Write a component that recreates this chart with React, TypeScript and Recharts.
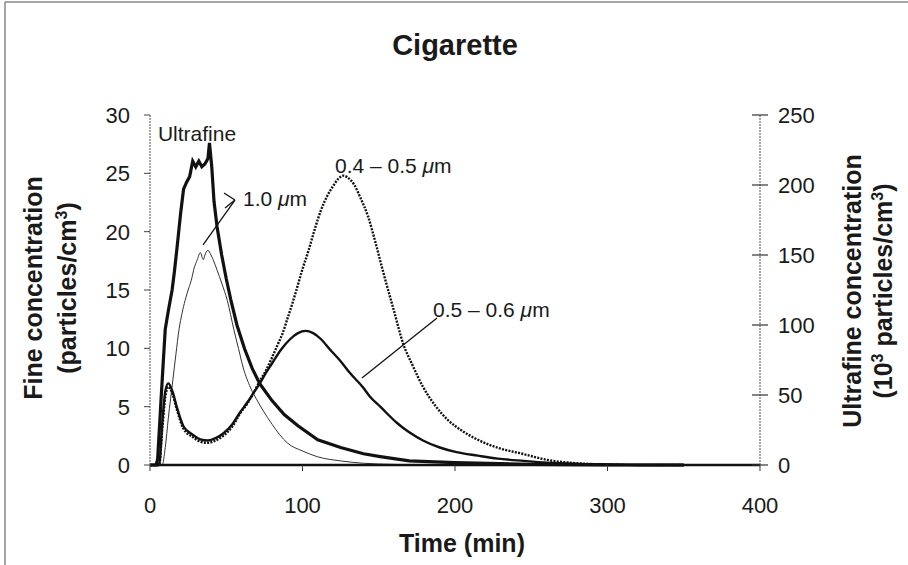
import React from "react";
import { LineChart, Line, XAxis, YAxis, ReferenceLine, ReferenceDot } from "recharts";

// ---------- data ----------
const xTicks = [0, 100, 200, 300, 400];
const leftTicks = [0, 5, 10, 15, 20, 25, 30];
const rightTicks = [0, 50, 100, 150, 200, 250];

// Ultrafine (10^3 particles/cm3, right axis)
const ufTime = [0, 4, 5, 7, 9, 10, 12, 14.5, 16, 17.8, 20, 22, 24, 26, 28, 30, 32, 34, 36, 38, 39, 40.5, 42, 44, 47, 50, 53, 57, 62, 67, 72, 80, 88, 97, 110, 125, 140, 151, 170, 200, 250, 300, 350];
const ufValue = [0, 0, 4, 42, 79, 97, 110, 125, 138, 156, 179, 197, 202, 206, 217, 213, 217, 213, 215, 219, 230, 213, 188, 170, 150, 133, 118, 100, 83, 69, 58, 46, 36, 28, 18, 12.5, 8, 6, 3, 1.7, 0.4, 0, 0];

// 1.0 um (fine, left axis)
const p10Time = [0, 8, 10, 12, 15, 17, 19, 21, 23, 25, 27, 29, 31, 33, 35, 36, 38, 40, 41.4, 44, 47, 50.7, 55, 58, 61, 66, 70, 74, 80, 85, 90, 100, 110, 125, 140, 160, 180, 250, 350];
const p10Value = [0, 0, 1.5, 4, 7.3, 9.5, 11.6, 13, 14.1, 15, 15.8, 16.9, 17.6, 18.2, 17.6, 18.0, 18.4, 18.0, 17.6, 16.7, 15.6, 14.1, 11.6, 10, 8.4, 6.6, 5.6, 4.7, 3.5, 2.6, 1.9, 1.2, 0.7, 0.35, 0.15, 0.05, 0, 0, 0];

// 0.4 - 0.5 um (fine, left axis)
const p45Time = [0, 6, 8, 10, 12, 15, 17.5, 22, 28, 33, 38, 43, 48, 54, 59, 64, 68, 72, 76, 80, 84, 87, 90, 93, 96, 100, 104, 108, 112, 116, 120, 124, 127, 130, 134, 138, 143, 148, 153, 160, 166, 172, 179, 187, 195, 205, 216, 230, 243, 260, 280, 300, 325, 350];
const p45Value = [0, 0, 3, 5.8, 6.7, 6.0, 4.8, 3.1, 2.4, 2.0, 1.9, 2.1, 2.5, 3.3, 4.4, 5.3, 6.2, 7.2, 8.1, 9.2, 10.4, 11.3, 12.5, 13.7, 15.0, 16.8, 18.4, 20.2, 21.8, 23.0, 23.9, 24.6, 24.8, 24.6, 24.0, 22.9, 21.3, 19.0, 16.5, 13.2, 10.4, 8.6, 6.7, 5.1, 3.9, 2.9, 2.1, 1.4, 1.0, 0.45, 0.15, 0.05, 0, 0];

// 0.5 - 0.6 um (fine, left axis)
const p56Time = [0, 6, 8, 10, 12, 15, 17.5, 22, 28, 33, 38, 43, 48, 54, 59, 64, 68, 72, 76, 80, 86, 92, 97, 102, 107, 112, 118, 125, 131, 140, 144, 151, 162, 170, 179, 190, 201, 215, 228, 245, 260, 280, 300, 325, 350];
const p56Value = [0, 0, 3.5, 6.3, 7.0, 6.2, 5.0, 3.3, 2.6, 2.2, 2.1, 2.3, 2.7, 3.5, 4.5, 5.4, 6.2, 7.0, 7.9, 8.7, 9.9, 10.8, 11.3, 11.5, 11.3, 10.8, 9.9, 8.9, 7.9, 6.6, 5.9, 5.0, 3.6, 2.8, 2.1, 1.5, 1.1, 0.8, 0.55, 0.35, 0.2, 0.1, 0.05, 0, 0];

const build = (ts: number[], vs: number[]) => ts.map((t, i) => ({ t, v: vs[i] }));
const ufData = build(ufTime, ufValue);
const p10Data = build(p10Time, p10Value);
const p45Data = build(p45Time, p45Value);
const p56Data = build(p56Time, p56Value);

const FONT = "'Liberation Sans', Arial, Helvetica, sans-serif";
const INK = "#1a1a1a";

const LeftTick = (props: any) => {
  const { x, y, payload } = props;
  return (
    <g>
      <line x1={x - 6} x2={x} y1={y} y2={y} stroke="#444" strokeWidth={1} />
      <text x={x - 20} y={y} dy="0.36em" textAnchor="end" fontSize={22} fontFamily={FONT} fill={INK}>
        {payload.value}
      </text>
    </g>
  );
};

const RightTick = (props: any) => {
  const { x, y, payload } = props;
  return (
    <g>
      <line x1={x - 8} x2={x + 8} y1={y} y2={y} stroke="#333" strokeWidth={1.2} />
      <text x={x + 18} y={y} dy="0.36em" textAnchor="start" fontSize={22} fontFamily={FONT} fill={INK}>
        {payload.value}
      </text>
    </g>
  );
};

const BottomTick = (props: any) => {
  const { x, y, payload } = props;
  return (
    <g>
      <line x1={x} x2={x} y1={y} y2={y + 6} stroke="#333" strokeWidth={1} />
      <text x={x} y={y + 40} dy="0.36em" textAnchor="middle" fontSize={22} fontFamily={FONT} fill={INK}>
        {payload.value}
      </text>
    </g>
  );
};

const textShape = (parts: React.ReactNode) => (props: any) => (
  <text x={props.cx} y={props.cy} fontSize={21} fontFamily={FONT} fill={INK}>
    {parts}
  </text>
);

const mu = (prefix: string) => (
  <>
    <tspan>{prefix}</tspan>
    <tspan fontStyle="italic">μ</tspan>
    <tspan>m</tspan>
  </>
);

export default function App() {
  return (
    <div style={{ position: "absolute", left: 0, top: 0, width: 908, height: 565, background: "#fff" }}>
      <LineChart width={908} height={565} margin={{ top: 115, right: 48, bottom: 40, left: 50 }}>
        <XAxis
          type="number"
          dataKey="t"
          domain={[0, 400]}
          ticks={xTicks}
          allowDataOverflow
          height={60}
          tickSize={0}
          tickMargin={0}
          tickLine={false}
          tick={<BottomTick />}
          axisLine={{ stroke: "#111", strokeWidth: 2.5 }}
        />
        <YAxis
          yAxisId="left"
          domain={[0, 30]}
          ticks={leftTicks}
          width={100}
          tickSize={0}
          tickMargin={0}
          tickLine={false}
          tick={<LeftTick />}
          axisLine={{ stroke: "#555", strokeWidth: 1, strokeDasharray: "2 1" }}
        />
        <YAxis
          yAxisId="right"
          orientation="right"
          domain={[0, 250]}
          ticks={rightTicks}
          width={100}
          tickSize={0}
          tickMargin={0}
          tickLine={false}
          tick={<RightTick />}
          axisLine={{ stroke: "#555", strokeWidth: 1, strokeDasharray: "2 1" }}
        />
        <Line yAxisId="left" data={p10Data} dataKey="v" type="monotone" stroke="#333" strokeWidth={1} dot={false} activeDot={false} isAnimationActive={false} />
        <Line yAxisId="left" data={p45Data} dataKey="v" type="monotone" stroke="#111" strokeWidth={2.4} strokeDasharray="2 1.3" dot={false} activeDot={false} isAnimationActive={false} />
        <Line yAxisId="left" data={p56Data} dataKey="v" type="monotone" stroke="#111" strokeWidth={2.4} dot={false} activeDot={false} isAnimationActive={false} />
        <Line yAxisId="right" data={ufData} dataKey="v" type="linear" stroke="#111" strokeWidth={3.2} dot={false} activeDot={false} isAnimationActive={false} />

        {/* leader lines */}
        <ReferenceLine yAxisId="left" segment={[{ x: 34.8, y: 18.86 }, { x: 55.7, y: 22.71 }]} stroke="#111" strokeWidth={1.3} ifOverflow="visible" />
        <ReferenceLine yAxisId="left" segment={[{ x: 48.5, y: 23.31 }, { x: 55.7, y: 22.71 }]} stroke="#111" strokeWidth={1.3} ifOverflow="visible" />
        <ReferenceLine yAxisId="left" segment={[{ x: 49.2, y: 22.03 }, { x: 55.7, y: 22.71 }]} stroke="#111" strokeWidth={1.3} ifOverflow="visible" />
        <ReferenceLine yAxisId="left" segment={[{ x: 188.2, y: 12.6 }, { x: 139, y: 7.46 }]} stroke="#111" strokeWidth={1.3} ifOverflow="visible" />

        {/* annotation texts */}
        <ReferenceDot yAxisId="left" x={5.2} y={27.8} r={0} ifOverflow="visible" shape={textShape("Ultrafine")} />
        <ReferenceDot yAxisId="left" x={61} y={22.2} r={0} ifOverflow="visible" shape={textShape(mu("1.0 "))} />
        <ReferenceDot yAxisId="left" x={121.3} y={25.0} r={0} ifOverflow="visible" shape={textShape(mu("0.4 – 0.5 "))} />
        <ReferenceDot yAxisId="left" x={185.6} y={12.7} r={0} ifOverflow="visible" shape={textShape(mu("0.5 – 0.6 "))} />
      </LineChart>

      <svg width={908} height={565} style={{ position: "absolute", left: 0, top: 0, pointerEvents: "none" }}>
        <line x1={5} y1={2} x2={908} y2={2} stroke="#888" strokeWidth={1.5} />
        <line x1={5} y1={2} x2={5} y2={565} stroke="#888" strokeWidth={1.5} />
        <text x={455} y={55} textAnchor="middle" fontSize={29} fontWeight="bold" fontFamily={FONT} fill={INK}>
          Cigarette
        </text>
        <text x={462} y={552} textAnchor="middle" fontSize={25} fontWeight="bold" fontFamily={FONT} fill={INK}>
          Time (min)
        </text>
        <text transform="translate(42,288) rotate(-90)" textAnchor="middle" fontSize={25} fontWeight="bold" fontFamily={FONT} fill={INK}>
          Fine concentration
        </text>
        <text transform="translate(76,288) rotate(-90)" textAnchor="middle" fontSize={25} fontWeight="bold" fontFamily={FONT} fill={INK}>
          <tspan>(particles/cm</tspan>
          <tspan dy={-9} fontSize={16}>3</tspan>
          <tspan dy={9}>)</tspan>
        </text>
        <text transform="translate(861,291) rotate(-90)" textAnchor="middle" fontSize={25} fontWeight="bold" fontFamily={FONT} fill={INK}>
          Ultrafine concentration
        </text>
        <text transform="translate(892,291) rotate(-90)" textAnchor="middle" fontSize={25} fontWeight="bold" fontFamily={FONT} fill={INK}>
          <tspan>(10</tspan>
          <tspan dy={-9} fontSize={16}>3</tspan>
          <tspan dy={9}> particles/cm</tspan>
          <tspan dy={-9} fontSize={16}>3</tspan>
          <tspan dy={9}>)</tspan>
        </text>
      </svg>
    </div>
  );
}
